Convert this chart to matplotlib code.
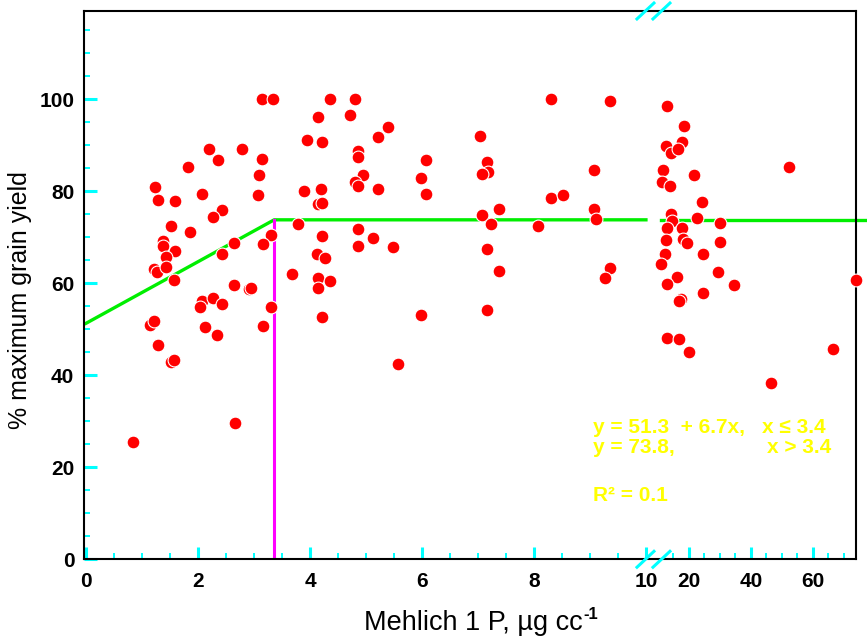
import numpy as np
import matplotlib
matplotlib.use("Agg")
import matplotlib.pyplot as plt
from matplotlib.ticker import FixedLocator, FixedFormatter

plt.rcParams['font.family'] = ['Liberation Sans', 'DejaVu Sans']

# Mehlich 1 P (ug/cc) and % maximum grain yield
p_low = [3.15, 3.34, 2.20, 2.79, 2.35, 3.14, 1.82, 3.09, 1.23, 2.07,
         3.08, 1.29, 1.59, 2.42, 2.26, 1.52, 1.85, 1.37, 1.37, 1.59,
         1.43, 2.64, 2.42, 3.31, 3.16, 1.22, 1.27, 1.42, 1.57, 3.68,
         2.64, 2.91, 2.94, 2.07, 2.04, 2.27, 2.43, 3.31, 1.14, 1.22,
         2.13, 2.34, 3.16, 1.28, 1.52, 1.57, 2.66, 0.84,
         4.36, 4.80, 4.15, 4.71, 5.39, 5.22, 3.95, 4.21, 4.85, 4.85,
         6.08, 5.99, 4.95, 4.80, 4.85, 5.22, 6.08, 3.90, 4.19, 4.15,
         4.22, 3.79, 4.21, 4.85, 5.12, 4.86, 5.48, 4.13, 4.27, 4.15,
         4.36, 4.15, 4.22, 5.99, 5.58,
         8.30, 9.35, 7.03, 7.16, 7.18, 7.08, 9.08, 8.30, 8.52, 7.37,
         7.08, 7.24, 8.08, 9.08, 9.11, 7.16, 7.38, 9.36, 9.26, 7.16]
y_low = [100.0, 100.0, 89.1, 89.1, 86.7, 87.1, 85.3, 83.5, 80.9, 79.5,
         79.3, 78.2, 77.9, 75.9, 74.4, 72.5, 71.1, 69.2, 68.1, 67.0,
         65.8, 68.7, 66.4, 70.5, 68.5, 63.2, 62.5, 63.6, 60.7, 62.0,
         59.7, 58.7, 59.0, 56.2, 54.9, 56.9, 55.5, 54.9, 50.9, 51.8,
         50.4, 48.7, 50.8, 46.6, 42.8, 43.3, 29.7, 25.4,
         100.0, 100.0, 96.1, 96.5, 93.9, 91.8, 91.2, 90.7, 88.7, 87.4,
         86.7, 82.9, 83.5, 82.0, 81.1, 80.6, 79.5, 80.0, 80.5, 77.3,
         77.4, 73.0, 70.3, 71.8, 69.8, 68.2, 68.0, 66.3, 65.5, 61.2,
         60.4, 58.9, 52.6, 53.0, 42.5,
         100.0, 99.6, 92.0, 86.3, 84.2, 83.7, 84.7, 78.6, 79.1, 76.2,
         74.8, 73.0, 72.4, 76.2, 73.9, 67.5, 62.7, 63.3, 61.2, 54.2]
p_high = [12.8, 18.3, 12.6, 17.8, 14.1, 16.4, 11.5, 11.2, 14.0, 21.6,
          24.3, 14.1, 22.7, 14.4, 30.0, 12.8, 17.8, 12.6, 18.2, 19.3,
          30.0, 12.4, 24.6, 11.1, 29.3, 16.2, 12.9, 34.6, 24.6, 17.6,
          16.9, 12.8, 16.8, 20.0, 52.4, 74.0, 46.6, 66.5]
y_high = [98.5, 94.1, 89.8, 90.7, 88.3, 89.1, 84.7, 82.0, 81.1, 83.5,
          77.7, 75.0, 74.1, 73.5, 73.2, 72.0, 72.1, 69.4, 69.6, 68.8,
          69.0, 66.3, 66.3, 64.3, 62.5, 61.3, 59.9, 59.7, 57.9, 56.5,
          56.1, 48.2, 47.8, 45.0, 85.3, 60.8, 38.3, 45.8]

# linear-plateau fit
fit1_x = [0, 3.36, 10]
fit1_y = [51.3, 73.8, 73.8]
fit2_x = [11, 77]
fit2_y = [73.8, 73.8]
joint_x = 3.36
joint_y = 73.8

major_x = [0, 2, 4, 6, 8, 10, 20, 40, 60]
major_lbl = ['0', '2', '4', '6', '8', '10', '20', '40', '60']
minor_x = [0.5, 1, 1.5, 2.5, 3, 3.5, 4.5, 5, 5.5, 6.5, 7, 7.5, 8.5, 9, 9.5,
           15, 25, 30, 35, 45, 50, 55, 65, 70]

# broken x axis: 0-10 linear, then compressed above 10
GAP = 0.214
K = 0.05536


def fwd(x):
    x = np.asarray(x, dtype=float)
    return np.where(x <= 10, x, 10 + GAP + (x - 10) * K)


def inv(u):
    u = np.asarray(u, dtype=float)
    return np.where(u <= 10, u,
                    np.where(u < 10 + GAP, 10.0, 10 + (u - 10 - GAP) / K))


fig = plt.figure(figsize=(8.67, 6.43), dpi=100)
ax = fig.add_axes([0.0969, 0.1302, 0.8904, 0.8527])
ax.set_xscale('function', functions=(fwd, inv))
ax.set_xlim(-0.036, 73.9)
ax.set_ylim(0, 119.2)

ax.plot(fit1_x, fit1_y, color='#00ee00', lw=2.4, zorder=2)
ax.plot(fit2_x, fit2_y, color='#00ee00', lw=2.4, zorder=2, clip_on=False)
ax.plot([joint_x, joint_x], [0, joint_y], color='#ff00ff', lw=2.2, zorder=2)

ax.scatter(p_low + p_high, y_low + y_high, s=85, color='#ff0000',
           edgecolors='white', linewidths=0.8, zorder=3, clip_on=False)

for sp in ax.spines.values():
    sp.set_linewidth(1.5)

ax.xaxis.set_major_locator(FixedLocator(major_x))
ax.xaxis.set_major_formatter(FixedFormatter(major_lbl))
ax.xaxis.set_minor_locator(FixedLocator(minor_x))
ax.set_yticks([0, 20, 40, 60, 80, 100])
ax.set_yticks(np.arange(5, 119, 5), minor=True)

ax.tick_params(which='both', direction='in', color='cyan', top=False, right=False)
ax.tick_params(which='major', length=9, width=2.2, labelsize=15)
ax.tick_params(which='minor', length=4, width=1.4)
ax.tick_params(axis='x', which='major', pad=9)
ax.tick_params(axis='y', which='major', pad=7)
for t in ax.get_xticklabels() + ax.get_yticklabels():
    t.set_fontweight('bold')

ax.set_xlabel('Mehlich 1 P, \u00b5g cc', fontsize=19.5)
ax.xaxis.set_label_coords(0.5045, -0.092)
# small bold superscript
ax.text(0.6464, -0.087, '-1', fontsize=12, fontweight='bold',
        transform=ax.transAxes, ha='left', va='top')
ax.set_ylabel('% maximum grain yield', fontsize=18)
ax.yaxis.set_label_coords(-0.068, 0.473)

# axis break marks
for y0 in (1.0, 0.0):
    for x0 in (0.7163, 0.737):
        ax.plot([x0, x0 + 0.022], [y0 - 0.0145, y0 + 0.0145], color='cyan',
                lw=2.2, transform=ax.transAxes, clip_on=False, zorder=5)

ytxt = dict(color='#ffff00', fontsize=15, fontweight='bold', transform=ax.transAxes)
ax.text(0.6593, 0.2298, 'y = 51.3  + 6.7x,', **ytxt)
ax.text(0.8788, 0.2298, 'x \u2264 3.4', **ytxt)
ax.text(0.6593, 0.1933, 'y = 73.8,', **ytxt)
ax.text(0.8847, 0.1933, 'x > 3.4', **ytxt)
ax.text(0.6593, 0.1063, 'R\u00b2 = 0.1', **ytxt)

fig.savefig('out.png', dpi=100)
